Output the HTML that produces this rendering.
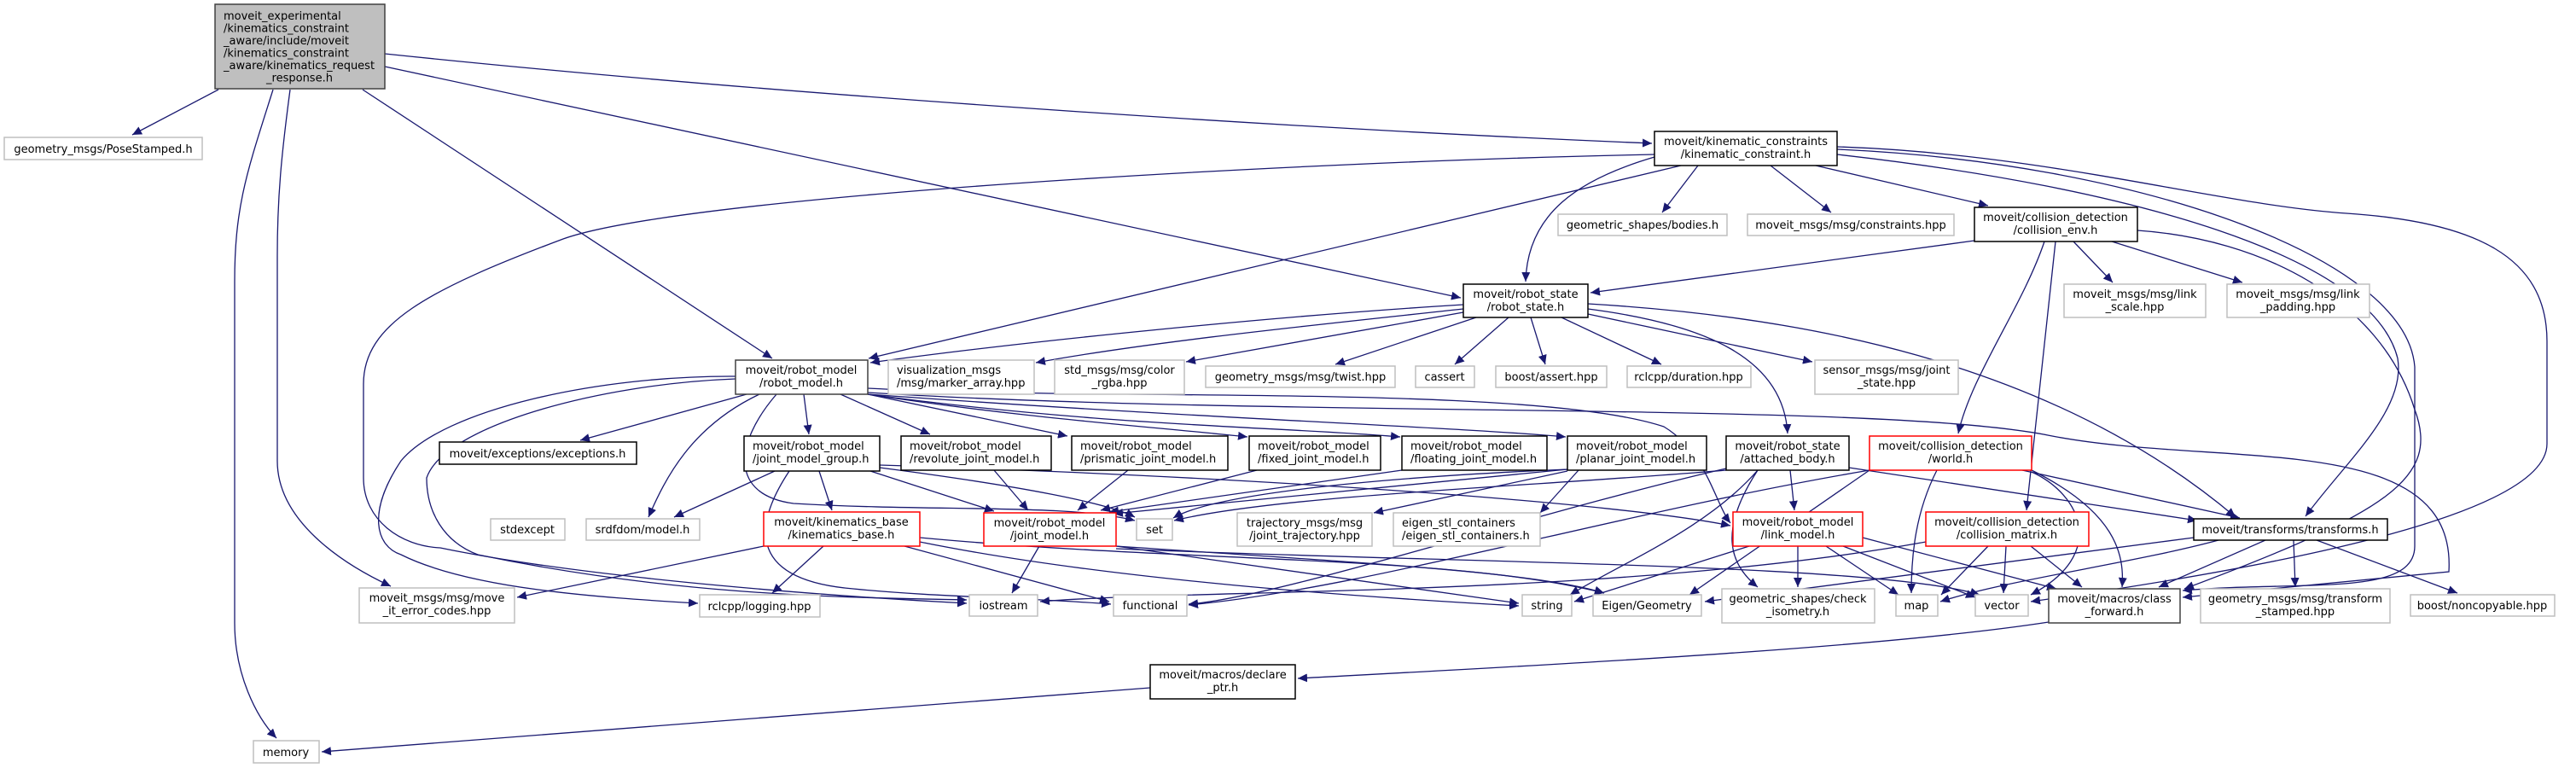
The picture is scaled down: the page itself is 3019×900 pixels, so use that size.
<!DOCTYPE html>
<html><head><meta charset="utf-8"><style>
html,body{margin:0;padding:0;background:#fff;}
svg{display:block;}
text{font-family:"DejaVu Sans","Liberation Sans",sans-serif;font-size:13px;fill:#000;}
.e{fill:none;stroke:#191970;stroke-width:1.3;marker-end:url(#a);}
</style></head><body>
<svg width="3019" height="900" viewBox="0 0 3019 900" xmlns="http://www.w3.org/2000/svg">
<defs><marker id="a" markerUnits="userSpaceOnUse" markerWidth="12" markerHeight="10" refX="11" refY="5" orient="auto"><path d="M0,0 L11,5 L0,10 z" fill="#191970"/></marker></defs>
<g>
<path class="e" d="M256,105 L155,158"/>
<path class="e" d="M451,63 C900,110 1500,150 1936,168"/>
<path class="e" d="M451,78 L1712,349"/>
<path class="e" d="M425,105 L905,420"/>
<path class="e" d="M320,105 C290,200 275,240 275,330 L275,730 C275,790 300,840 324,865"/>
<path class="e" d="M340,105 C330,180 325,230 325,300 L325,540 C325,610 400,660 458,687"/>
<path class="e" d="M1939,181 C1500,190 800,230 660,280 C500,340 426,380 426,450 L426,560 C426,610 470,640 516,642 C700,680 1000,700 1133,707"/>
<path class="e" d="M1970,194 L1018,420"/>
<path class="e" d="M1939,184 C1850,210 1790,250 1788,330"/>
<path class="e" d="M1990,194 L1948,249"/>
<path class="e" d="M2075,194 L2146,249"/>
<path class="e" d="M2128,194 L2330,241"/>
<path class="e" d="M2153,181 C2500,220 2780,300 2810,420 C2820,480 2750,540 2702,605"/>
<path class="e" d="M2153,175 C2500,190 2820,300 2830,430 L2830,640 C2830,700 2700,680 2558,692"/>
<path class="e" d="M2153,172 C2400,180 2600,240 2750,250 C2900,260 2985,300 2985,400 L2985,520 C2985,600 2700,660 2380,705"/>
<path class="e" d="M2314,282 L1864,343"/>
<path class="e" d="M2430,283 L2476,331"/>
<path class="e" d="M2475,283 L2628,331"/>
<path class="e" d="M2396,283 C2370,360 2310,440 2295,508"/>
<path class="e" d="M2409,283 L2375,598"/>
<path class="e" d="M2505,270 C2650,280 2790,350 2830,480 C2860,560 2800,600 2560,690"/>
<path class="e" d="M1715,357 C1500,370 1200,400 1020,425"/>
<path class="e" d="M1715,362 C1550,380 1350,400 1214,425"/>
<path class="e" d="M1715,366 L1390,424"/>
<path class="e" d="M1730,372 L1565,427"/>
<path class="e" d="M1768,372 L1705,427"/>
<path class="e" d="M1794,372 L1811,427"/>
<path class="e" d="M1830,372 L1947,427"/>
<path class="e" d="M1861,368 L2124,424"/>
<path class="e" d="M1861,362 C2000,380 2090,420 2095,508"/>
<path class="e" d="M1861,356 C2100,370 2400,420 2620,606"/>
<path class="e" d="M875,462 L680,516"/>
<path class="e" d="M942,462 L948,509"/>
<path class="e" d="M985,462 L1090,509"/>
<path class="e" d="M1017,462 L1251,511"/>
<path class="e" d="M1017,462 C1200,490 1350,500 1462,512"/>
<path class="e" d="M1017,462 C1300,500 1500,500 1641,512"/>
<path class="e" d="M1017,462 C1400,490 1700,500 1835,512"/>
<path class="e" d="M890,462 C810,500 780,560 760,606"/>
<path class="e" d="M862,441 C700,440 520,480 470,540 C430,600 440,640 470,650 C550,690 700,700 818,707"/>
<path class="e" d="M862,444 C700,450 520,500 500,560 C500,600 520,635 560,650 C800,700 1000,700 1133,703"/>
<path class="e" d="M910,462 C860,520 855,580 930,590 C1100,600 1250,590 1330,610"/>
<path class="e" d="M1017,460 C1500,490 2200,470 2400,510 C2600,550 2880,500 2870,670 L2558,700"/>
<path class="e" d="M1017,455 C1300,470 1800,450 1950,500 C2000,530 2010,590 2028,613"/>
<path class="e" d="M908,552 L790,606"/>
<path class="e" d="M960,552 L975,598"/>
<path class="e" d="M1020,552 L1165,599"/>
<path class="e" d="M1031,548 C1200,570 1300,590 1330,606"/>
<path class="e" d="M1031,545 C1500,560 1900,590 2028,616"/>
<path class="e" d="M925,552 C880,620 880,680 1000,690 C1100,700 1200,700 1302,708"/>
<path class="e" d="M895,640 L606,700"/>
<path class="e" d="M965,640 L905,695"/>
<path class="e" d="M1060,640 L1300,705"/>
<path class="e" d="M1078,635 C1300,680 1600,700 1780,710"/>
<path class="e" d="M1078,630 C1400,660 1700,650 1880,695"/>
<path class="e" d="M1165,551 L1205,598"/>
<path class="e" d="M1322,551 L1263,598"/>
<path class="e" d="M1473,551 L1290,598"/>
<path class="e" d="M1643,551 L1300,600"/>
<path class="e" d="M1837,550 L1305,602"/>
<path class="e" d="M1837,550 C1600,560 1420,580 1375,607"/>
<path class="e" d="M1837,552 L1610,601"/>
<path class="e" d="M1850,551 L1805,601"/>
<path class="e" d="M1218,640 L1186,695"/>
<path class="e" d="M1308,640 L1780,707"/>
<path class="e" d="M1308,640 C1600,660 1800,670 1880,695"/>
<path class="e" d="M1308,643 C1700,660 2200,660 2320,697"/>
<path class="e" d="M2098,551 L2103,598"/>
<path class="e" d="M2060,551 C2000,620 1900,660 1840,697"/>
<path class="e" d="M2060,551 C2015,620 2025,660 2060,688"/>
<path class="e" d="M2167,548 L2575,610"/>
<path class="e" d="M2023,551 C1800,570 1500,580 1376,610"/>
<path class="e" d="M2023,549 C1800,600 1500,700 1393,708"/>
<path class="e" d="M2270,551 C2245,600 2240,650 2240,695"/>
<path class="e" d="M2381,551 C2480,600 2490,650 2487,688"/>
<path class="e" d="M2370,551 L2625,607"/>
<path class="e" d="M2381,553 C2440,580 2470,650 2380,697"/>
<path class="e" d="M2191,551 L1980,697"/>
<path class="e" d="M2191,551 C1900,600 1600,690 1393,709"/>
<path class="e" d="M2050,640 L1845,705"/>
<path class="e" d="M2107,640 L2107,688"/>
<path class="e" d="M2140,640 L2225,697"/>
<path class="e" d="M2160,640 L2315,700"/>
<path class="e" d="M2183,630 L2410,690"/>
<path class="e" d="M2330,640 L2275,697"/>
<path class="e" d="M2351,640 L2348,695"/>
<path class="e" d="M2380,640 L2440,688"/>
<path class="e" d="M2257,635 C1900,700 1400,690 1219,705"/>
<path class="e" d="M2655,633 L2530,688"/>
<path class="e" d="M2688,633 L2690,688"/>
<path class="e" d="M2715,633 L2880,695"/>
<path class="e" d="M2600,633 C2500,660 2350,680 2274,705"/>
<path class="e" d="M2571,630 L1998,705"/>
<path class="e" d="M2401,729 C2200,760 1800,780 1521,795"/>
<path class="e" d="M1348,806 L377,881"/>
</g>
<g stroke-width="1.5">
<rect x="252" y="5" width="199" height="99" fill="#bfbfbf" stroke="#404040"/>
<text x="262" y="23">moveit_experimental</text>
<text x="262" y="37.5">/kinematics_constraint</text>
<text x="262" y="52">_aware/include/moveit</text>
<text x="262" y="66.5">/kinematics_constraint</text>
<text x="262" y="81">_aware/kinematics_request</text>
<text x="351" y="95.5" text-anchor="middle">_response.h</text>
</g>
<g id="nodes" stroke-width="1.5"></g>
<g stroke-width="1.5" font-size="13">
<!-- single-line nodes -->
<rect x="5" y="161" width="232" height="26" fill="#fff" stroke="#bfbfbf"/><text x="121" y="179" text-anchor="middle">geometry_msgs/PoseStamped.h</text>
<rect x="1826" y="251" width="198" height="25" fill="#fff" stroke="#bfbfbf"/><text x="1925" y="268" text-anchor="middle">geometric_shapes/bodies.h</text>
<rect x="2048" y="251" width="242" height="25" fill="#fff" stroke="#bfbfbf"/><text x="2169" y="268" text-anchor="middle">moveit_msgs/msg/constraints.hpp</text>
<rect x="1413" y="429" width="222" height="25" fill="#fff" stroke="#bfbfbf"/><text x="1524" y="446" text-anchor="middle">geometry_msgs/msg/twist.hpp</text>
<rect x="1659" y="429" width="69" height="25" fill="#fff" stroke="#bfbfbf"/><text x="1693" y="446" text-anchor="middle">cassert</text>
<rect x="1753" y="429" width="130" height="25" fill="#fff" stroke="#bfbfbf"/><text x="1818" y="446" text-anchor="middle">boost/assert.hpp</text>
<rect x="1907" y="429" width="145" height="25" fill="#fff" stroke="#bfbfbf"/><text x="1979" y="446" text-anchor="middle">rclcpp/duration.hpp</text>
<rect x="515" y="518" width="231" height="26" fill="#fff" stroke="#000"/><text x="630" y="536" text-anchor="middle">moveit/exceptions/exceptions.h</text>
<rect x="575" y="608" width="87" height="25" fill="#fff" stroke="#bfbfbf"/><text x="618" y="625" text-anchor="middle">stdexcept</text>
<rect x="687" y="608" width="133" height="25" fill="#fff" stroke="#bfbfbf"/><text x="753" y="625" text-anchor="middle">srdfdom/model.h</text>
<rect x="1332" y="608" width="42" height="25" fill="#fff" stroke="#bfbfbf"/><text x="1353" y="625" text-anchor="middle">set</text>
<rect x="2571" y="608" width="227" height="25" fill="#fff" stroke="#000"/><text x="2684" y="625" text-anchor="middle">moveit/transforms/transforms.h</text>
<rect x="820" y="697" width="141" height="26" fill="#fff" stroke="#bfbfbf"/><text x="890" y="715" text-anchor="middle">rclcpp/logging.hpp</text>
<rect x="1136" y="697" width="80" height="25" fill="#fff" stroke="#bfbfbf"/><text x="1176" y="714" text-anchor="middle">iostream</text>
<rect x="1305" y="697" width="86" height="25" fill="#fff" stroke="#bfbfbf"/><text x="1348" y="714" text-anchor="middle">functional</text>
<rect x="1784" y="697" width="58" height="25" fill="#fff" stroke="#bfbfbf"/><text x="1813" y="714" text-anchor="middle">string</text>
<rect x="1867" y="697" width="127" height="25" fill="#fff" stroke="#bfbfbf"/><text x="1930" y="714" text-anchor="middle">Eigen/Geometry</text>
<rect x="2222" y="697" width="49" height="25" fill="#fff" stroke="#bfbfbf"/><text x="2246" y="714" text-anchor="middle">map</text>
<rect x="2315" y="697" width="62" height="25" fill="#fff" stroke="#bfbfbf"/><text x="2346" y="714" text-anchor="middle">vector</text>
<rect x="2825" y="697" width="169" height="25" fill="#fff" stroke="#bfbfbf"/><text x="2909" y="714" text-anchor="middle">boost/noncopyable.hpp</text>
<rect x="297" y="868" width="77" height="26" fill="#fff" stroke="#bfbfbf"/><text x="335" y="886" text-anchor="middle">memory</text>
</g>
<g stroke-width="1.5" font-size="13">
<!-- two-line nodes -->
<rect x="1939" y="154" width="214" height="40" fill="#fff" stroke="#000"/><text x="2046" y="170" text-anchor="middle">moveit/kinematic_constraints</text><text x="2046" y="185" text-anchor="middle">/kinematic_constraint.h</text>
<rect x="2314" y="243" width="191" height="40" fill="#fff" stroke="#000"/><text x="2409" y="259" text-anchor="middle">moveit/collision_detection</text><text x="2409" y="274" text-anchor="middle">/collision_env.h</text>
<rect x="1715" y="333" width="146" height="39" fill="#fff" stroke="#000"/><text x="1788" y="349" text-anchor="middle">moveit/robot_state</text><text x="1788" y="364" text-anchor="middle">/robot_state.h</text>
<rect x="2419" y="333" width="166" height="39" fill="#fff" stroke="#bfbfbf"/><text x="2502" y="349" text-anchor="middle">moveit_msgs/msg/link</text><text x="2502" y="364" text-anchor="middle">_scale.hpp</text>
<rect x="2610" y="333" width="167" height="39" fill="#fff" stroke="#bfbfbf"/><text x="2693" y="349" text-anchor="middle">moveit_msgs/msg/link</text><text x="2693" y="364" text-anchor="middle">_padding.hpp</text>
<rect x="862" y="422" width="155" height="40" fill="#fff" stroke="#404040"/><text x="939" y="438" text-anchor="middle">moveit/robot_model</text><text x="939" y="453" text-anchor="middle">/robot_model.h</text>
<rect x="1041" y="422" width="171" height="40" fill="#fff" stroke="#bfbfbf"/><text x="1051" y="438">visualization_msgs</text><text x="1051" y="453">/msg/marker_array.hpp</text>
<rect x="1236" y="422" width="152" height="40" fill="#fff" stroke="#bfbfbf"/><text x="1312" y="438" text-anchor="middle">std_msgs/msg/color</text><text x="1312" y="453" text-anchor="middle">_rgba.hpp</text>
<rect x="2127" y="422" width="168" height="40" fill="#fff" stroke="#bfbfbf"/><text x="2211" y="438" text-anchor="middle">sensor_msgs/msg/joint</text><text x="2211" y="453" text-anchor="middle">_state.hpp</text>
<rect x="872" y="511" width="159" height="41" fill="#fff" stroke="#000"/><text x="882" y="527">moveit/robot_model</text><text x="882" y="542">/joint_model_group.h</text>
<rect x="1056" y="511" width="176" height="40" fill="#fff" stroke="#000"/><text x="1066" y="527">moveit/robot_model</text><text x="1066" y="542">/revolute_joint_model.h</text>
<rect x="1256" y="511" width="183" height="40" fill="#fff" stroke="#000"/><text x="1266" y="527">moveit/robot_model</text><text x="1266" y="542">/prismatic_joint_model.h</text>
<rect x="1464" y="511" width="154" height="40" fill="#fff" stroke="#000"/><text x="1474" y="527">moveit/robot_model</text><text x="1474" y="542">/fixed_joint_model.h</text>
<rect x="1643" y="511" width="170" height="40" fill="#fff" stroke="#000"/><text x="1653" y="527">moveit/robot_model</text><text x="1653" y="542">/floating_joint_model.h</text>
<rect x="1837" y="511" width="163" height="40" fill="#fff" stroke="#000"/><text x="1847" y="527">moveit/robot_model</text><text x="1847" y="542">/planar_joint_model.h</text>
<rect x="2023" y="511" width="144" height="40" fill="#fff" stroke="#000"/><text x="2095" y="527" text-anchor="middle">moveit/robot_state</text><text x="2095" y="542" text-anchor="middle">/attached_body.h</text>
<rect x="2191" y="511" width="190" height="40" fill="#fff" stroke="#ff0000"/><text x="2286" y="527" text-anchor="middle">moveit/collision_detection</text><text x="2286" y="542" text-anchor="middle">/world.h</text>
<rect x="895" y="600" width="183" height="40" fill="#fff" stroke="#ff0000"/><text x="986" y="616" text-anchor="middle">moveit/kinematics_base</text><text x="986" y="631" text-anchor="middle">/kinematics_base.h</text>
<rect x="1153" y="601" width="155" height="39" fill="#fff" stroke="#ff0000"/><text x="1230" y="617" text-anchor="middle">moveit/robot_model</text><text x="1230" y="632" text-anchor="middle">/joint_model.h</text>
<rect x="1450" y="601" width="158" height="39" fill="#fff" stroke="#bfbfbf"/><text x="1529" y="617" text-anchor="middle">trajectory_msgs/msg</text><text x="1529" y="632" text-anchor="middle">/joint_trajectory.hpp</text>
<rect x="1633" y="601" width="172" height="39" fill="#fff" stroke="#bfbfbf"/><text x="1643" y="617">eigen_stl_containers</text><text x="1643" y="632">/eigen_stl_containers.h</text>
<rect x="2031" y="600" width="152" height="40" fill="#fff" stroke="#ff0000"/><text x="2107" y="616" text-anchor="middle">moveit/robot_model</text><text x="2107" y="631" text-anchor="middle">/link_model.h</text>
<rect x="2257" y="600" width="191" height="40" fill="#fff" stroke="#ff0000"/><text x="2352" y="616" text-anchor="middle">moveit/collision_detection</text><text x="2352" y="631" text-anchor="middle">/collision_matrix.h</text>
<rect x="421" y="689" width="182" height="41" fill="#fff" stroke="#bfbfbf"/><text x="512" y="705" text-anchor="middle">moveit_msgs/msg/move</text><text x="512" y="720" text-anchor="middle">_it_error_codes.hpp</text>
<rect x="2018" y="690" width="179" height="40" fill="#fff" stroke="#bfbfbf"/><text x="2107" y="706" text-anchor="middle">geometric_shapes/check</text><text x="2107" y="721" text-anchor="middle">_isometry.h</text>
<rect x="2401" y="690" width="154" height="40" fill="#fff" stroke="#404040"/><text x="2478" y="706" text-anchor="middle">moveit/macros/class</text><text x="2478" y="721" text-anchor="middle">_forward.h</text>
<rect x="2579" y="690" width="222" height="40" fill="#fff" stroke="#bfbfbf"/><text x="2690" y="706" text-anchor="middle">geometry_msgs/msg/transform</text><text x="2690" y="721" text-anchor="middle">_stamped.hpp</text>
<rect x="1348" y="779" width="170" height="40" fill="#fff" stroke="#000"/><text x="1433" y="795" text-anchor="middle">moveit/macros/declare</text><text x="1433" y="810" text-anchor="middle">_ptr.h</text>
</g>
</svg>
</body></html>
